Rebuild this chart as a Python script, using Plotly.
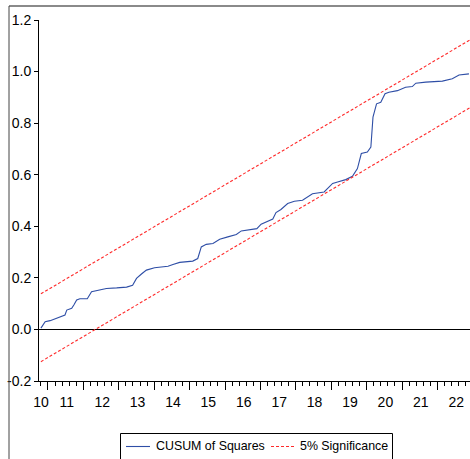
import plotly.graph_objects as go

# ---- data ----
obs_time = [2010.80, 2010.92, 2011.06, 2011.25, 2011.48, 2011.53, 2011.67, 2011.73, 2011.81, 2011.90,
            2012.11, 2012.23, 2012.37, 2012.65, 2012.94, 2013.22, 2013.39, 2013.50, 2013.64, 2013.78,
            2014.01, 2014.39, 2014.53, 2014.72, 2015.09, 2015.23, 2015.33, 2015.47, 2015.66, 2015.85,
            2016.08, 2016.32, 2016.46, 2016.74, 2016.90, 2017.02, 2017.16, 2017.35, 2017.44, 2017.58,
            2017.77, 2017.96, 2018.19, 2018.33, 2018.47, 2018.80, 2019.04, 2019.18, 2019.41, 2019.60,
            2019.74, 2019.85, 2020.02, 2020.12, 2020.18, 2020.28, 2020.40, 2020.52, 2020.63, 2020.87,
            2021.10, 2021.29, 2021.39, 2021.67, 2022.14, 2022.42, 2022.61, 2022.89]
cusum_sq = [0.005, 0.030, 0.034, 0.043, 0.056, 0.075, 0.082, 0.095, 0.114, 0.119,
            0.119, 0.146, 0.150, 0.159, 0.161, 0.164, 0.171, 0.198, 0.215, 0.230,
            0.239, 0.245, 0.252, 0.260, 0.265, 0.275, 0.320, 0.330, 0.333, 0.350,
            0.359, 0.368, 0.382, 0.388, 0.391, 0.408, 0.416, 0.428, 0.453, 0.465,
            0.488, 0.497, 0.501, 0.514, 0.526, 0.533, 0.566, 0.572, 0.581, 0.594,
            0.624, 0.682, 0.688, 0.707, 0.823, 0.875, 0.881, 0.914, 0.920, 0.926,
            0.939, 0.942, 0.955, 0.959, 0.963, 0.972, 0.987, 0.991]

band_time = [2010.80, 2022.92]
upper_band = [0.138, 1.123]
lower_band = [-0.125, 0.860]

series_names = ["CUSUM of Squares", "5% Significance"]

year_ticks = list(range(2011, 2023))
x_label_pos = [2010.80] + [y + 0.53 for y in range(2011, 2023)]
x_label_text = ["10", "11", "12", "13", "14", "15", "16", "17", "18", "19", "20", "21", "22"]
y_tick_vals = [-0.2, 0.0, 0.2, 0.4, 0.6, 0.8, 1.0, 1.2]
y_tick_text = ["-0.2", "0.0", "0.2", "0.4", "0.6", "0.8", "1.0", "1.2"]

X_RANGE = [2010.746, 2022.92]
Y_RANGE = [-0.2, 1.2]

FONT = "Liberation Sans, Arial, sans-serif"
BLUE = "#2E4EA6"
RED = "#FF2A2A"
DASH = "3px,2px"
W, H = 470, 459
ML, MR, MT, MB = 39, 0, 20, 78

def px_x(p):
    return (p - ML) / (W - ML - MR)

def px_y(p):
    return (H - MB - p) / (H - MT - MB)

fig = go.Figure()
fig.add_trace(go.Scatter(x=obs_time, y=cusum_sq, mode="lines", name=series_names[0],
                         line=dict(color=BLUE, width=1.1)))
fig.add_trace(go.Scatter(x=band_time, y=upper_band, mode="lines", name=series_names[1],
                         line=dict(color=RED, width=1.1, dash=DASH)))
fig.add_trace(go.Scatter(x=band_time, y=lower_band, mode="lines", name=series_names[1],
                         line=dict(color=RED, width=1.1, dash=DASH)))
# invisible trace carrying the x tick labels (centred in each year)
fig.add_trace(go.Scatter(x=x_label_pos, y=[None] * len(x_label_pos), xaxis="x2",
                         hoverinfo="skip"))

# legend box (bottom edge falls outside the picture, as in the reference)
legend_shapes = [
    dict(type="rect", xref="paper", yref="paper",
         x0=px_x(120.5), x1=px_x(392.5), y0=px_y(433.5), y1=px_y(475),
         line=dict(color="black", width=1), fillcolor="white", layer="above"),
    dict(type="line", xref="paper", yref="paper",
         x0=px_x(126), x1=px_x(150), y0=px_y(446.5), y1=px_y(446.5),
         line=dict(color=BLUE, width=1.1), layer="above"),
    dict(type="line", xref="paper", yref="paper",
         x0=px_x(271), x1=px_x(295), y0=px_y(446.5), y1=px_y(446.5),
         line=dict(color=RED, width=1.1, dash=DASH), layer="above"),
]
legend_text = [
    dict(xref="paper", yref="paper", x=px_x(154), y=px_y(446), xanchor="left", yanchor="middle",
         text=series_names[0], showarrow=False,
         font=dict(family=FONT, size=12.4, color="black")),
    dict(xref="paper", yref="paper", x=px_x(298), y=px_y(446), xanchor="left", yanchor="middle",
         text=series_names[1], showarrow=False,
         font=dict(family=FONT, size=12.4, color="black")),
]

frame_shapes = [
    dict(type="line", xref="paper", yref="paper",
         x0=px_x(9), x1=px_x(470), y0=px_y(6), y1=px_y(6),
         line=dict(color="#8a8a8a", width=2)),
    dict(type="line", xref="paper", yref="paper",
         x0=px_x(9), x1=px_x(9), y0=px_y(6), y1=px_y(462),
         line=dict(color="#444444", width=1)),
]

fig.update_layout(
    width=W, height=H,
    margin=dict(l=ML, r=MR, t=MT, b=MB),
    paper_bgcolor="white", plot_bgcolor="white",
    font=dict(family=FONT, size=14, color="black"),
    showlegend=False,
    xaxis=dict(range=X_RANGE, showgrid=False, zeroline=False,
               showline=True, linecolor="black", linewidth=1,
               tickmode="array", tickvals=year_ticks, ticktext=[""] * len(year_ticks),
               ticks="outside", ticklen=8, tickcolor="black", tickwidth=1,
               minor=dict(dtick=0.2, tick0=2011, ticks="outside", ticklen=4,
                          tickcolor="black", tickwidth=1, showgrid=False)),
    xaxis2=dict(range=X_RANGE, overlaying="x", side="bottom", anchor="y",
                showgrid=False, zeroline=False, showline=False,
                tickmode="array", tickvals=x_label_pos, ticktext=x_label_text,
                ticks="outside", ticklen=8, tickcolor="rgba(0,0,0,0)",
                tickfont=dict(family=FONT, size=14, color="black")),
    yaxis=dict(range=Y_RANGE, showgrid=False,
               zeroline=True, zerolinecolor="black", zerolinewidth=1,
               showline=True, linecolor="black", linewidth=1,
               tickmode="array", tickvals=y_tick_vals, ticktext=y_tick_text,
               ticks="outside", ticklen=4, tickcolor="black", tickwidth=1,
               tickfont=dict(family=FONT, size=14, color="black")),
    shapes=frame_shapes + legend_shapes,
    annotations=legend_text,
)

fig.write_html("out.html")
